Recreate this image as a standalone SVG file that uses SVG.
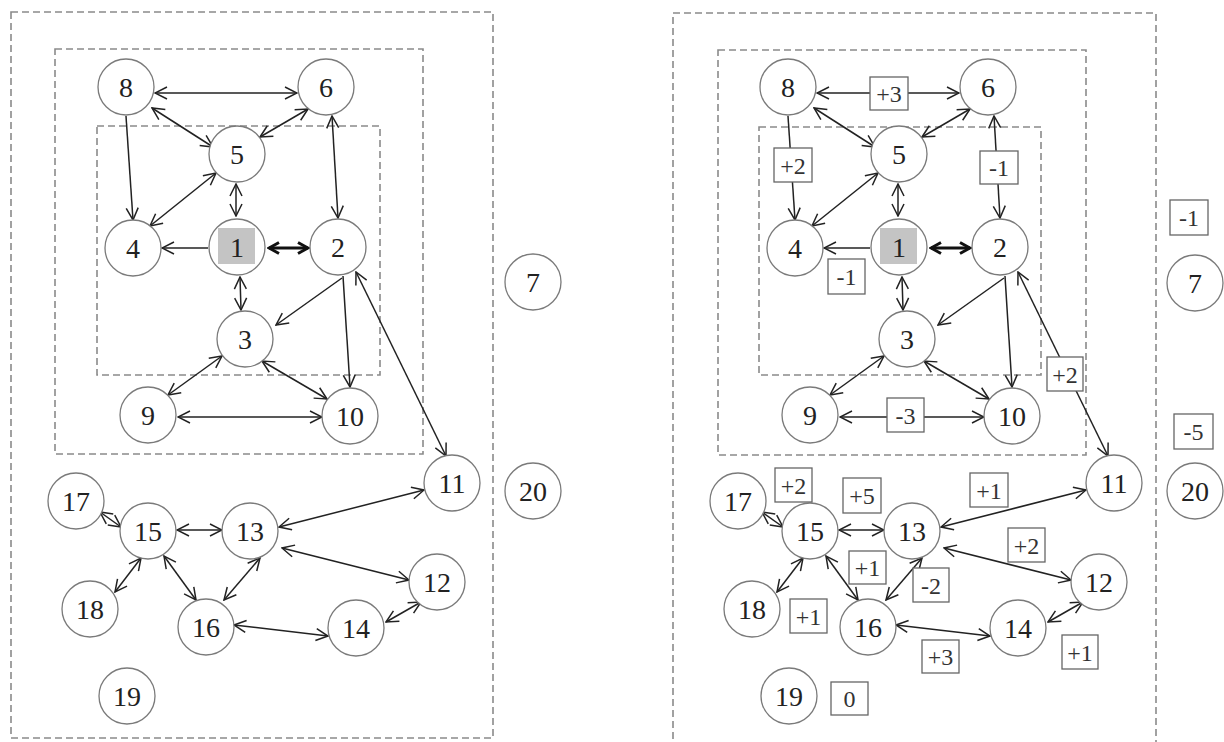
<svg xmlns="http://www.w3.org/2000/svg" width="1224" height="742" viewBox="0 0 1224 742">
<style>
.bg{fill:#fff}
.frame{fill:none;stroke:#8a8a8a;stroke-width:1.6;stroke-dasharray:7 4}
.node circle{fill:#fff;stroke:#7a7a7a;stroke-width:1.3}
.node text{font-family:"Liberation Serif","Times New Roman",serif;font-size:28px;fill:#222;text-anchor:middle}
.hub{fill:#c4c4c4}
.edge{fill:none;stroke:#222;stroke-width:1.5}
.d{marker-start:url(#ah);marker-end:url(#ah)}
.s{marker-end:url(#ah)}
.bold{fill:none;stroke:#111;stroke-width:3.2;marker-start:url(#bh);marker-end:url(#bh)}
.lbl rect{fill:#fff;stroke:#666;stroke-width:1.3}
.lbl text{font-family:"Liberation Serif","Times New Roman",serif;font-size:24px;fill:#333;text-anchor:middle}
</style>
<defs>
<marker id="ah" viewBox="0 0 14 14" refX="13" refY="7" markerWidth="14" markerHeight="14" markerUnits="userSpaceOnUse" orient="auto-start-reverse">
<path d="M1,1 L13,7 L1,13" fill="none" stroke="#222" stroke-width="1.5"/>
</marker>
<marker id="bh" viewBox="0 0 14 14" refX="12" refY="7" markerWidth="14" markerHeight="14" markerUnits="userSpaceOnUse" orient="auto-start-reverse">
<path d="M2,1.5 L12,7 L2,12.5" fill="none" stroke="#111" stroke-width="3"/>
</marker>
</defs>
<rect class="bg" x="0" y="0" width="1224" height="742"/>

<!-- LEFT PANEL -->
<g id="left-panel">
<g id="L-frames">
<rect class="frame" x="11" y="12" width="482" height="726"/>
<rect class="frame" x="55" y="49" width="368" height="405"/>
<rect class="frame" x="97" y="126" width="283" height="249"/>
</g>
<g id="L-connectors">
<line class="edge d" x1="155" y1="93" x2="297" y2="93"/>
<line class="edge d" x1="152" y1="108" x2="213" y2="147"/>
<line class="edge d" x1="308" y1="109" x2="260" y2="137"/>
<line class="edge s" x1="126" y1="116" x2="133" y2="220"/>
<line class="edge d" x1="332" y1="116" x2="338" y2="218"/>
<line class="edge d" x1="216" y1="173" x2="150" y2="226"/>
<line class="edge d" x1="236" y1="184" x2="236" y2="216"/>
<line class="edge s" x1="208" y1="248" x2="162" y2="248"/>
<line class="bold" x1="269" y1="248" x2="308" y2="248"/>
<line class="edge d" x1="240" y1="277" x2="241" y2="310"/>
<line class="edge s" x1="342" y1="278" x2="276" y2="325"/>
<line class="edge s" x1="343" y1="276" x2="350" y2="387"/>
<line class="edge d" x1="356" y1="272" x2="446" y2="456"/>
<line class="edge d" x1="222" y1="356" x2="168" y2="395"/>
<line class="edge d" x1="262" y1="361" x2="327" y2="399"/>
<line class="edge d" x1="178" y1="417" x2="322" y2="417"/>
<line class="edge d" x1="279" y1="527" x2="424" y2="490"/>
<line class="edge d" x1="282" y1="548" x2="409" y2="580"/>
<line class="edge d" x1="177" y1="530" x2="222" y2="530"/>
<line class="edge d" x1="100" y1="512" x2="121" y2="527"/>
<line class="edge d" x1="115" y1="592" x2="141" y2="558"/>
<line class="edge d" x1="164" y1="556" x2="196" y2="600"/>
<line class="edge d" x1="260" y1="558" x2="224" y2="600"/>
<line class="edge d" x1="234" y1="625" x2="328" y2="636"/>
<line class="edge d" x1="386" y1="622" x2="421" y2="602"/>
</g>
<g id="L-n1" class="node"><circle cx="237" cy="247" r="28"/><rect class="hub" x="218" y="228" width="37" height="36"/><text x="237" y="257">1</text></g>
<g id="L-n2" class="node"><circle cx="338" cy="247" r="28"/><text x="338" y="257">2</text></g>
<g id="L-n3" class="node"><circle cx="245" cy="339" r="28"/><text x="245" y="349">3</text></g>
<g id="L-n4" class="node"><circle cx="133" cy="248" r="28"/><text x="133" y="258">4</text></g>
<g id="L-n5" class="node"><circle cx="237" cy="154" r="28"/><text x="237" y="164">5</text></g>
<g id="L-n6" class="node"><circle cx="326" cy="87" r="28"/><text x="326" y="97">6</text></g>
<g id="L-n7" class="node"><circle cx="533" cy="282" r="28"/><text x="533" y="292">7</text></g>
<g id="L-n8" class="node"><circle cx="126" cy="87" r="28"/><text x="126" y="97">8</text></g>
<g id="L-n9" class="node"><circle cx="148" cy="415" r="28"/><text x="148" y="425">9</text></g>
<g id="L-n10" class="node"><circle cx="350" cy="416" r="28"/><text x="350" y="426">10</text></g>
<g id="L-n11" class="node"><circle cx="452" cy="483" r="28"/><text x="452" y="493">11</text></g>
<g id="L-n12" class="node"><circle cx="437" cy="582" r="28"/><text x="437" y="592">12</text></g>
<g id="L-n13" class="node"><circle cx="250" cy="531" r="28"/><text x="250" y="541">13</text></g>
<g id="L-n14" class="node"><circle cx="356" cy="628" r="28"/><text x="356" y="638">14</text></g>
<g id="L-n15" class="node"><circle cx="148" cy="531" r="28"/><text x="148" y="541">15</text></g>
<g id="L-n16" class="node"><circle cx="206" cy="627" r="28"/><text x="206" y="637">16</text></g>
<g id="L-n17" class="node"><circle cx="76" cy="501" r="28"/><text x="76" y="511">17</text></g>
<g id="L-n18" class="node"><circle cx="90" cy="609" r="28"/><text x="90" y="619">18</text></g>
<g id="L-n19" class="node"><circle cx="127" cy="696" r="28"/><text x="127" y="706">19</text></g>
<g id="L-n20" class="node"><circle cx="533" cy="491" r="28"/><text x="533" y="501">20</text></g>
</g>

<!-- RIGHT PANEL -->
<g id="right-panel" transform="translate(662,0)">
<g id="R-frames">
<rect class="frame" x="11" y="13" width="483" height="760"/>
<rect class="frame" x="56" y="50" width="368" height="405"/>
<rect class="frame" x="97" y="127" width="282" height="248"/>
</g>
<g id="R-connectors">
<line class="edge d" x1="155" y1="93" x2="297" y2="93"/>
<line class="edge d" x1="152" y1="108" x2="213" y2="147"/>
<line class="edge d" x1="308" y1="109" x2="260" y2="137"/>
<line class="edge s" x1="126" y1="116" x2="133" y2="220"/>
<line class="edge d" x1="332" y1="116" x2="338" y2="218"/>
<line class="edge d" x1="216" y1="173" x2="150" y2="226"/>
<line class="edge d" x1="236" y1="184" x2="236" y2="216"/>
<line class="edge s" x1="208" y1="248" x2="162" y2="248"/>
<line class="bold" x1="269" y1="248" x2="308" y2="248"/>
<line class="edge d" x1="240" y1="277" x2="241" y2="310"/>
<line class="edge s" x1="342" y1="278" x2="276" y2="325"/>
<line class="edge s" x1="343" y1="276" x2="350" y2="387"/>
<line class="edge d" x1="356" y1="272" x2="446" y2="456"/>
<line class="edge d" x1="222" y1="356" x2="168" y2="395"/>
<line class="edge d" x1="262" y1="361" x2="327" y2="399"/>
<line class="edge d" x1="178" y1="417" x2="322" y2="417"/>
<line class="edge d" x1="279" y1="527" x2="424" y2="490"/>
<line class="edge d" x1="282" y1="548" x2="409" y2="580"/>
<line class="edge d" x1="177" y1="530" x2="222" y2="530"/>
<line class="edge d" x1="100" y1="512" x2="121" y2="527"/>
<line class="edge d" x1="115" y1="592" x2="141" y2="558"/>
<line class="edge d" x1="164" y1="556" x2="196" y2="600"/>
<line class="edge d" x1="260" y1="558" x2="224" y2="600"/>
<line class="edge d" x1="234" y1="625" x2="328" y2="636"/>
<line class="edge d" x1="386" y1="622" x2="421" y2="602"/>
</g>
<g id="R-n1" class="node"><circle cx="237" cy="247" r="28"/><rect class="hub" x="218" y="228" width="37" height="36"/><text x="237" y="257">1</text></g>
<g id="R-n2" class="node"><circle cx="338" cy="247" r="28"/><text x="338" y="257">2</text></g>
<g id="R-n3" class="node"><circle cx="245" cy="339" r="28"/><text x="245" y="349">3</text></g>
<g id="R-n4" class="node"><circle cx="133" cy="248" r="28"/><text x="133" y="258">4</text></g>
<g id="R-n5" class="node"><circle cx="237" cy="154" r="28"/><text x="237" y="164">5</text></g>
<g id="R-n6" class="node"><circle cx="326" cy="87" r="28"/><text x="326" y="97">6</text></g>
<g id="R-n7" class="node"><circle cx="533" cy="283" r="28"/><text x="533" y="293">7</text></g>
<g id="R-n8" class="node"><circle cx="126" cy="87" r="28"/><text x="126" y="97">8</text></g>
<g id="R-n9" class="node"><circle cx="148" cy="415" r="28"/><text x="148" y="425">9</text></g>
<g id="R-n10" class="node"><circle cx="350" cy="416" r="28"/><text x="350" y="426">10</text></g>
<g id="R-n11" class="node"><circle cx="452" cy="483" r="28"/><text x="452" y="493">11</text></g>
<g id="R-n12" class="node"><circle cx="437" cy="582" r="28"/><text x="437" y="592">12</text></g>
<g id="R-n13" class="node"><circle cx="250" cy="531" r="28"/><text x="250" y="541">13</text></g>
<g id="R-n14" class="node"><circle cx="356" cy="628" r="28"/><text x="356" y="638">14</text></g>
<g id="R-n15" class="node"><circle cx="148" cy="531" r="28"/><text x="148" y="541">15</text></g>
<g id="R-n16" class="node"><circle cx="206" cy="627" r="28"/><text x="206" y="637">16</text></g>
<g id="R-n17" class="node"><circle cx="76" cy="501" r="28"/><text x="76" y="511">17</text></g>
<g id="R-n18" class="node"><circle cx="90" cy="609" r="28"/><text x="90" y="619">18</text></g>
<g id="R-n19" class="node"><circle cx="127" cy="696" r="28"/><text x="127" y="706">19</text></g>
<g id="R-n20" class="node"><circle cx="533" cy="491" r="28"/><text x="533" y="501">20</text></g>
<g id="R-labels">
<g class="lbl"><rect x="208" y="77" width="38" height="33"/><text x="227" y="102">+3</text></g>
<g class="lbl"><rect x="112" y="148" width="38" height="34"/><text x="131" y="174">+2</text></g>
<g class="lbl"><rect x="318" y="151" width="38" height="33"/><text x="337" y="176">-1</text></g>
<g class="lbl"><rect x="166" y="259" width="37" height="35"/><text x="184.5" y="285">-1</text></g>
<g class="lbl"><rect x="385" y="357" width="36" height="34"/><text x="403" y="383">+2</text></g>
<g class="lbl"><rect x="225" y="398" width="37" height="34"/><text x="243.5" y="424">-3</text></g>
<g class="lbl"><rect x="113" y="468" width="37" height="34"/><text x="131.5" y="494">+2</text></g>
<g class="lbl"><rect x="181" y="478" width="38" height="35"/><text x="200" y="504">+5</text></g>
<g class="lbl"><rect x="308" y="473" width="38" height="34"/><text x="327" y="499">+1</text></g>
<g class="lbl"><rect x="346" y="528" width="37" height="34"/><text x="364.5" y="554">+2</text></g>
<g class="lbl"><rect x="187" y="551" width="37" height="33"/><text x="205.5" y="576">+1</text></g>
<g class="lbl"><rect x="251" y="568" width="36" height="34"/><text x="269" y="594">-2</text></g>
<g class="lbl"><rect x="128" y="599" width="37" height="34"/><text x="146.5" y="625">+1</text></g>
<g class="lbl"><rect x="260" y="640" width="37" height="33"/><text x="278.5" y="665">+3</text></g>
<g class="lbl"><rect x="400" y="635" width="36" height="34"/><text x="418" y="661">+1</text></g>
<g class="lbl"><rect x="169" y="682" width="37" height="33"/><text x="187.5" y="707">0</text></g>
<g class="lbl"><rect x="508" y="200" width="38" height="35"/><text x="527" y="226">-1</text></g>
<g class="lbl"><rect x="512" y="414" width="39" height="35"/><text x="531.5" y="440">-5</text></g>
</g>
</g>
</svg>
